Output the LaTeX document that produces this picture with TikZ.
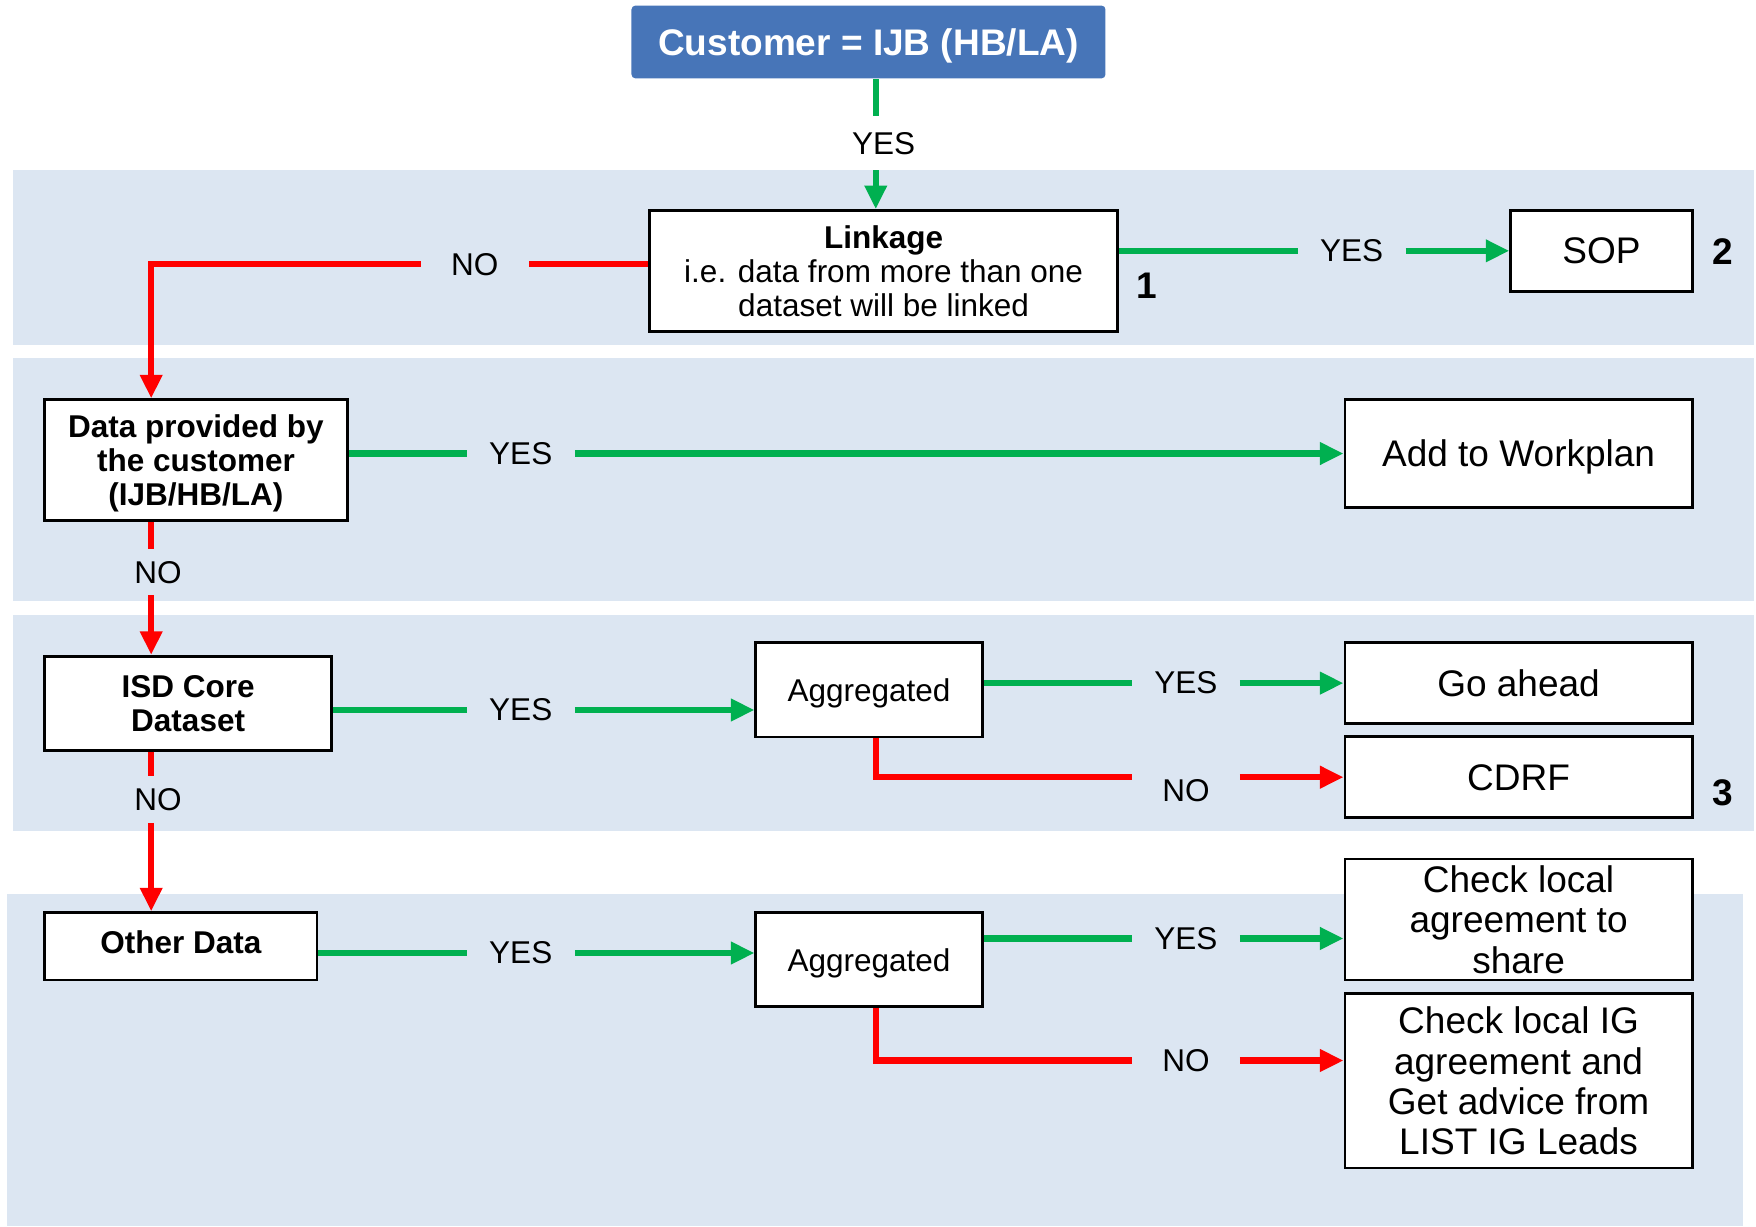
\documentclass[tikz,border=0pt]{standalone}
\usepackage{fontspec}
\setmainfont{Liberation Sans}
\usetikzlibrary{arrows.meta}

\definecolor{bandblue}{HTML}{DCE6F2}
\definecolor{custblue}{HTML}{4775B8}
\definecolor{yesgreen}{HTML}{00B050}
\definecolor{nored}{HTML}{FF0000}

\tikzset{
  box/.style={draw=black, line width=0.7pt, fill=white, align=center, inner sep=0pt,
    text depth=0pt, font=\fontsize{8}{8.7}\selectfont},
  bigbox/.style={box, font=\fontsize{9.4}{10.2}\selectfont},
  custbox/.style={fill=custblue, text=white, rounded corners=1pt, inner sep=0pt, text depth=0pt,
    minimum width=4.23cm, minimum height=0.65cm, font=\fontsize{9.4}{10}\selectfont\bfseries},
  answer/.style={inner sep=0pt, minimum width=0.95cm, minimum height=0.40cm,
    font=\fontsize{8}{8.7}\selectfont},
  stepno/.style={font=\fontsize{9.4}{10}\selectfont\bfseries},
  yesline/.style={draw=yesgreen, line width=1.6pt},
  noline/.style={draw=nored, line width=1.6pt},
  arr/.style={-{Triangle[length=0.21cm,width=0.19cm]}}
}

\begin{document}
\begin{tikzpicture}[x=0.01cm, y=-0.01cm]
\useasboundingbox (0,0) rectangle (1568,1095);
\fill[bandblue] (12,152) rectangle (1566,308);
\fill[bandblue] (12,320) rectangle (1566,537);
\fill[bandblue] (12,549) rectangle (1566,742);
\fill[bandblue] (6,798) rectangle (1556,1095);

\coordinate (trunk) at (135,0);
\coordinate (mid) at (782,0);

\node[custbox] (cust) at (775.5,37.5) {Customer = IJB (HB/LA)};
\node[box, minimum width=4.18cm, minimum height=1.08cm] (link) at (789,242)
  {\textbf{Linkage}\\i.e. data from more than one\\dataset will be linked};
\node[bigbox, minimum width=1.62cm, minimum height=0.72cm] (sop) at (1430,224) {SOP};
\node[box, minimum width=2.70cm, minimum height=1.08cm, font=\fontsize{8}{8.7}\selectfont\bfseries] (data) at (175,411)
  {Data provided by\\the customer\\(IJB/HB/LA)};
\node[bigbox, minimum width=3.10cm, minimum height=0.96cm] (work) at (1356,405) {Add to Workplan};
\node[box, minimum width=2.56cm, minimum height=0.84cm, font=\fontsize{8}{8.7}\selectfont\bfseries] (isd) at (168,628)
  {ISD Core\\Dataset};
\node[box, minimum width=2.02cm, minimum height=0.84cm] (agg1) at (776,616) {Aggregated};
\node[bigbox, minimum width=3.10cm, minimum height=0.72cm] (go) at (1356,610) {Go ahead};
\node[bigbox, minimum width=3.10cm, minimum height=0.72cm] (cdrf) at (1356,694) {CDRF};
\node[box, minimum width=2.43cm, minimum height=0.60cm, font=\fontsize{8}{8.7}\selectfont\bfseries] (other) at (161.5,845)
  {\raisebox{0.07cm}{Other Data}};
\node[box, minimum width=2.02cm, minimum height=0.84cm] (agg2) at (776,857) {Aggregated};
\node[bigbox, minimum width=3.10cm, minimum height=1.08cm] (chk1) at (1356,821)
  {Check local\\agreement to\\share};
\node[bigbox, minimum width=3.10cm, minimum height=1.56cm] (chk2) at (1356,965)
  {Check local IG\\agreement and\\Get advice from\\LIST IG Leads};

\node[stepno] (n1) at (1024,255) {1};
\node[stepno] (n2) at (1538,225) {2};
\node[stepno] (n3) at (1538,708) {3};

\node[answer, fill=white, minimum height=0.47cm] (cyes) at (789,128) {YES};
\node[answer] (lno) at (424,236) {NO};
\node[answer] (lyes) at (1207,224) {YES};
\node[answer] (dyes) at (465,405) {YES};
\node[answer] (dno) at (141,511) {NO};
\node[answer] (iyes) at (465,634) {YES};
\node[answer] (ino) at (141,714) {NO};
\node[answer] (a1yes) at (1059,610) {YES};
\node[answer] (a1no) at (1059,706) {NO};
\node[answer] (oyes) at (465,851) {YES};
\node[answer] (a2yes) at (1059,838) {YES};
\node[answer] (a2no) at (1059,947) {NO};

\draw[yesline] (cust.south -| mid) -- (cyes.north -| mid);
\draw[yesline, arr] (cyes.south -| mid) -- (link.north -| mid);
\draw[yesline, arr] (link.east |- sop) -- (lyes) -- (sop);
\draw[noline, arr] (link.west |- lno) -- (lno) -| (trunk |- data.north);
\draw[yesline, arr] (data.east |- work) -- (dyes) -- (work);
\draw[noline] (trunk |- data.south) -- (trunk |- dno.north);
\draw[noline, arr] (trunk |- dno.south) -- (trunk |- isd.north);
\draw[yesline, arr] (isd.east |- iyes) -- (iyes) -- (agg1.west |- iyes);
\draw[noline] (trunk |- isd.south) -- (trunk |- ino.north);
\draw[noline, arr] (trunk |- ino.south) -- (trunk |- other.north);
\draw[yesline, arr] (agg1.east |- go) -- (a1yes) -- (go);
\draw[noline] (agg1.south -| mid) |- (a1no.west |- cdrf);
\draw[noline, arr] (a1no.east |- cdrf) -- (cdrf);
\draw[yesline, arr] (other.east |- oyes) -- (oyes) -- (agg2.west |- oyes);
\draw[yesline, arr] (agg2.east |- a2yes) -- (a2yes) -- (chk1.west |- a2yes);
\draw[noline, arr] (agg2.south -| mid) |- (a2no) -- (chk2.west |- a2no);
\end{tikzpicture}
\end{document}
